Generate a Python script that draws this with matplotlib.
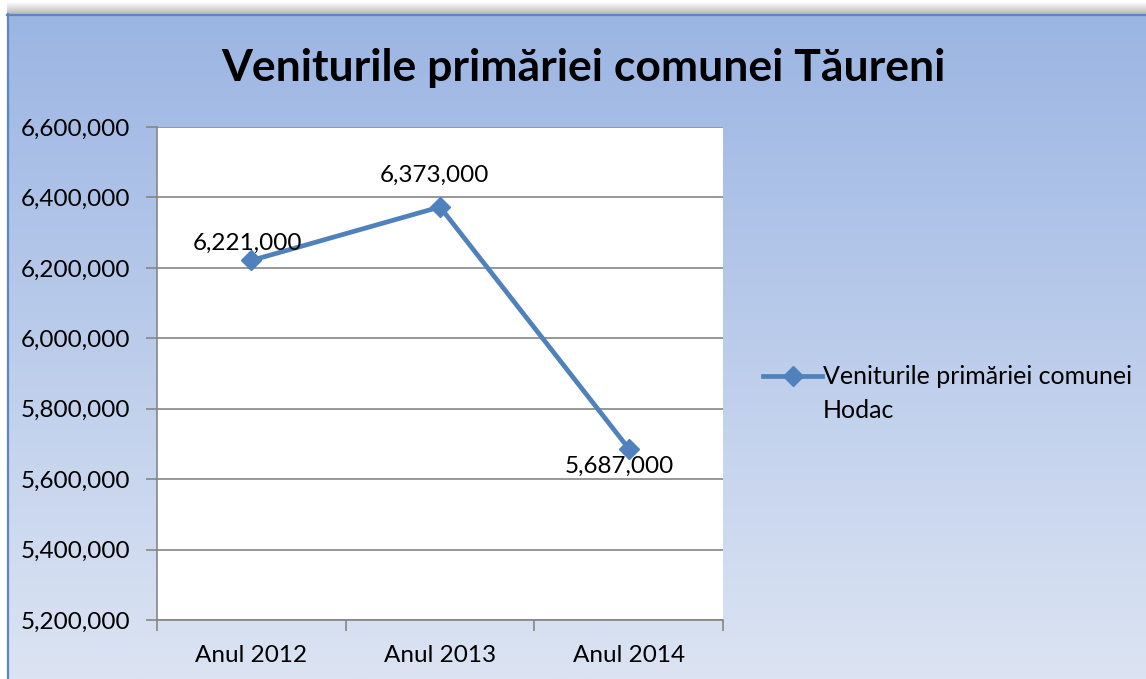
import numpy as np
import matplotlib.pyplot as plt
from matplotlib.colors import LinearSegmentedColormap
from matplotlib.ticker import FuncFormatter, FixedLocator

plt.rcParams['font.family'] = ['Lato', 'DejaVu Sans']

# date
ani = ['Anul 2012', 'Anul 2013', 'Anul 2014']
venituri = [6221000, 6373000, 5687000]
eticheta_serie = 'Veniturile primăriei comunei\nHodac'
titlu = 'Veniturile primăriei comunei Tăureni'
y_min, y_max, y_pas = 5200000, 6600000, 200000

W, H = 1146, 679
albastru = '#4f81bd'
gri = '#868686'
fs = 17.5

fig = plt.figure(figsize=(W / 100, H / 100), dpi=100)

# fundal cu gradient si chenar
bg = fig.add_axes([0, 0, 1, 1])
bg.set_xlim(0, W)
bg.set_ylim(H, 0)
bg.axis('off')
cmap = LinearSegmentedColormap.from_list('fundal', ['#9bb5e3', '#dce4f3'])
grad = np.linspace(0, 1, 256).reshape(-1, 1)
bg.imshow(grad, cmap=cmap, extent=[7, W, H, 14], aspect='auto', zorder=0)
umbra = LinearSegmentedColormap.from_list('umbra', ['#ffffff', '#b8b8b8'])
bg.imshow(np.linspace(0, 1, 64).reshape(-1, 1), cmap=umbra,
          extent=[7, W, 14, 2], aspect='auto', zorder=0)
bg.plot([7.5, 7.5], [14, H], color='#5b87c8', lw=1.6)
bg.plot([7, W], [14.5, 14.5], color='#5b87c8', lw=1.6)

fig.text(583 / W, 1 - 68 / H, titlu, ha='center', va='center',
         fontsize=32, fontweight='bold', color='black')

# zona graficului
ax = fig.add_axes([157 / W, 1 - 620 / H, (723 - 157) / W, (620 - 127) / H])
ax.set_facecolor('white')
x = np.arange(len(ani))
ax.plot(x, venituri, color=albastru, lw=3.4, marker='D', markersize=10.5,
        solid_capstyle='round', zorder=3, clip_on=False)

ax.set_xlim(-0.5, len(ani) - 0.5)
ax.set_ylim(y_min, y_max)
ax.set_yticks(np.arange(y_min, y_max + 1, y_pas))
ax.yaxis.set_major_formatter(FuncFormatter(lambda v, p: f'{int(v):,}'))
ax.set_xticks(x)
ax.set_xticklabels(ani)
ax.xaxis.set_minor_locator(FixedLocator(np.arange(-0.5, len(ani), 1.0)))
ax.grid(axis='y', color=gri, lw=1.2, zorder=1)
ax.set_axisbelow(True)
for s in ['top', 'right']:
    ax.spines[s].set_visible(False)
for s in ['left', 'bottom']:
    ax.spines[s].set_color(gri)
    ax.spines[s].set_linewidth(1.2)
ax.tick_params(axis='y', length=8, width=1.2, color=gri, labelsize=fs, pad=11)
ax.tick_params(axis='x', which='major', length=0, labelsize=fs, pad=18)
ax.tick_params(axis='x', which='minor', length=8, width=1.2, color=gri)

# etichete de valori
deplasari = [(-3, 12), (-4, 23), (-7, -13)]
for xi, v, d in zip(x, venituri, deplasari):
    ax.annotate(f'{v:,}', (xi, v), xytext=d, textcoords='offset points',
                ha='center', va='center', fontsize=fs, zorder=4)

# legenda
lx = np.array([763, 792.5, 822])
bg.plot(lx, [376] * 3, color=albastru, lw=3.4, marker='D', markersize=10.5,
        markevery=[1])
for i, rand in enumerate(eticheta_serie.split('\n')):
    bg.text(823, 376 + 34 * i, rand, ha='left', va='center', fontsize=18)

fig.savefig('out.png', dpi=100)
